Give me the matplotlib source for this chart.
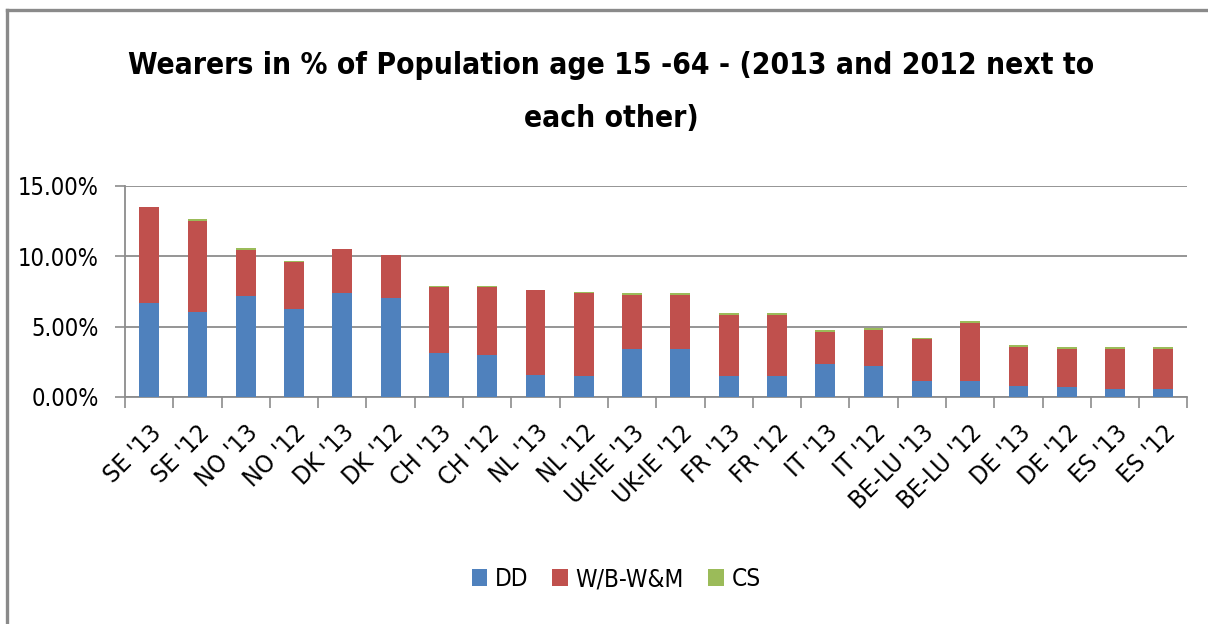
import numpy as np
import matplotlib
matplotlib.use("Agg")
import matplotlib.pyplot as plt
from matplotlib.lines import Line2D
from matplotlib.ticker import FuncFormatter, FixedLocator

plt.rcParams['font.family'] = ['DejaVu Sans']
plt.rcParams['font.stretch'] = 'condensed'

# categories and stacked values (in %)
labels = ["SE '13", "SE '12", "NO '13", "NO '12", "DK '13", "DK '12", "CH '13", "CH '12",
          "NL '13", "NL '12", "UK-IE '13", "UK-IE '12", "FR '13", "FR '12", "IT '13", "IT '12",
          "BE-LU '13", "BE-LU '12", "DE '13", "DE '12", "ES '13", "ES '12"]
dd = [6.71, 6.05, 7.16, 6.28, 7.37, 7.04, 3.12, 3.00, 1.58, 1.46,
      3.43, 3.43, 1.46, 1.46, 2.34, 2.22, 1.13, 1.13, 0.80, 0.69, 0.59, 0.59]
wbwm = [6.78, 6.45, 3.28, 3.29, 3.17, 3.05, 4.68, 4.80, 6.03, 5.91,
        3.82, 3.80, 4.38, 4.38, 2.31, 2.53, 2.96, 4.16, 2.74, 2.74, 2.84, 2.84]
cs = [0.03, 0.12, 0.12, 0.12, 0.0, 0.0, 0.11, 0.11, 0.0, 0.10,
      0.12, 0.14, 0.11, 0.11, 0.10, 0.12, 0.11, 0.12, 0.12, 0.14, 0.14, 0.14]
series_names = ["DD", "W/B-W&M", "CS"]
colors = ["#4F81BD", "#C0504D", "#9BBB59"]

fig = plt.figure(figsize=(12.08, 6.24), dpi=100)
# chart frame: only top and left edges visible
fig.add_artist(Line2D([0.0058, 1.0], [0.9832, 0.9832], transform=fig.transFigure,
                      color="#8a8a8a", linewidth=2.4))
fig.add_artist(Line2D([0.0058, 0.0058], [0.0, 0.9832], transform=fig.transFigure,
                      color="#8a8a8a", linewidth=2.4))

ax = fig.add_axes([0.1035, 0.3638, 0.8795, 0.3382])
x = np.arange(len(labels))
dd_a = np.array(dd) / 100
wb_a = np.array(wbwm) / 100
cs_a = np.array(cs) / 100
w = 0.41
ax.bar(x, dd_a, w, color=colors[0], label=series_names[0], zorder=3)
ax.bar(x, wb_a, w, bottom=dd_a, color=colors[1], label=series_names[1], zorder=3)
ax.bar(x, cs_a, w, bottom=dd_a + wb_a, color=colors[2], label=series_names[2], zorder=3)

ax.set_xlim(-0.5, len(labels) - 0.5)
ax.set_ylim(0, 0.15)
ax.set_yticks([0, 0.05, 0.10, 0.15])
ax.yaxis.set_major_formatter(FuncFormatter(lambda v, p: "%.2f%%" % (v * 100)))
ax.grid(axis="y", color="#8c8c8c", linewidth=1.3, zorder=0)
ax.set_axisbelow(True)

ax.set_xticks(x)
ax.set_xticklabels(labels, rotation=45, ha="right", rotation_mode="anchor", fontsize=18)
ax.tick_params(axis="x", which="major", length=0, pad=17)
ax.xaxis.set_minor_locator(FixedLocator(np.arange(-0.5, len(labels), 1.0)))
ax.tick_params(axis="x", which="minor", length=8, color="#8c8c8c", width=1.2)
ax.tick_params(axis="y", length=7, color="#8c8c8c", width=1.2, labelsize=17, pad=12)

for s in ["top", "right"]:
    ax.spines[s].set_visible(False)
for s in ["left", "bottom"]:
    ax.spines[s].set_color("#8c8c8c")
    ax.spines[s].set_linewidth(1.3)

fig.text(0.506, 0.895, "Wearers in % of Population age 15 -64 - (2013 and 2012 next to",
         ha="center", va="center", fontsize=21.5, fontweight="bold")
fig.text(0.506, 0.81, "each other)", ha="center", va="center", fontsize=21.5, fontweight="bold")

fig.legend(loc="center", bbox_to_anchor=(0.51, 0.072), ncol=3, frameon=False,
           fontsize=17.5, handlelength=0.65, handleheight=0.65, handletextpad=0.3,
           columnspacing=1.0)

fig.savefig("out.png", dpi=100)
